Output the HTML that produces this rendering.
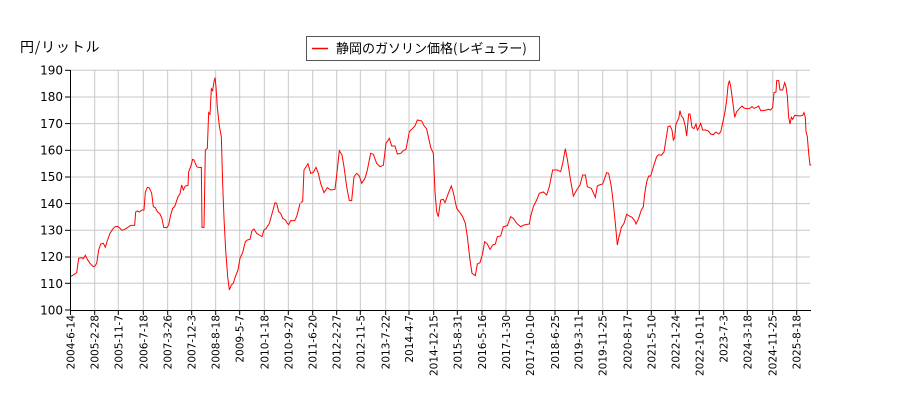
<!DOCTYPE html>
<html><head><meta charset="utf-8"><style>
body{margin:0;background:#fff;}
svg{font-family:"DejaVu Sans","Noto Sans CJK JP",sans-serif;}
</style></head><body>
<svg width="900" height="400" viewBox="0 0 900 400" xmlns="http://www.w3.org/2000/svg">
<rect width="900" height="400" fill="#fff"/>
<text x="20" y="52" font-size="14" fill="#000" font-family="'Noto Sans CJK JP',sans-serif" letter-spacing="0.8">円/リットル</text>
<g stroke="#c8c8c8" stroke-width="1">
<line x1="70" x2="810" y1="70.3" y2="70.3"/><line x1="70" x2="810" y1="97" y2="97"/><line x1="70" x2="810" y1="123.6" y2="123.6"/><line x1="70" x2="810" y1="150.3" y2="150.3"/><line x1="70" x2="810" y1="177" y2="177"/><line x1="70" x2="810" y1="203.6" y2="203.6"/><line x1="70" x2="810" y1="230.3" y2="230.3"/><line x1="70" x2="810" y1="257" y2="257"/><line x1="70" x2="810" y1="283.3" y2="283.3"/>
<line y1="70" y2="310" x1="94.7" x2="94.7"/><line y1="70" y2="310" x1="118.3" x2="118.3"/><line y1="70" y2="310" x1="143.3" x2="143.3"/><line y1="70" y2="310" x1="167.7" x2="167.7"/><line y1="70" y2="310" x1="191.7" x2="191.7"/><line y1="70" y2="310" x1="215.7" x2="215.7"/><line y1="70" y2="310" x1="239.7" x2="239.7"/><line y1="70" y2="310" x1="264.3" x2="264.3"/><line y1="70" y2="310" x1="288.3" x2="288.3"/><line y1="70" y2="310" x1="312.7" x2="312.7"/><line y1="70" y2="310" x1="336.7" x2="336.7"/><line y1="70" y2="310" x1="360.3" x2="360.3"/><line y1="70" y2="310" x1="385.7" x2="385.7"/><line y1="70" y2="310" x1="409" x2="409"/><line y1="70" y2="310" x1="433.7" x2="433.7"/><line y1="70" y2="310" x1="457.3" x2="457.3"/><line y1="70" y2="310" x1="482" x2="482"/><line y1="70" y2="310" x1="506" x2="506"/><line y1="70" y2="310" x1="530" x2="530"/><line y1="70" y2="310" x1="555" x2="555"/><line y1="70" y2="310" x1="578.3" x2="578.3"/><line y1="70" y2="310" x1="602.7" x2="602.7"/><line y1="70" y2="310" x1="627.3" x2="627.3"/><line y1="70" y2="310" x1="651.3" x2="651.3"/><line y1="70" y2="310" x1="675.3" x2="675.3"/><line y1="70" y2="310" x1="699.3" x2="699.3"/><line y1="70" y2="310" x1="723.7" x2="723.7"/><line y1="70" y2="310" x1="747.3" x2="747.3"/><line y1="70" y2="310" x1="772.7" x2="772.7"/><line y1="70" y2="310" x1="796.7" x2="796.7"/>
</g>
<g fill="none" stroke="#ff0000" stroke-width="1" stroke-linejoin="miter">
<g transform="translate(0,30) scale(0.33333)">
<polyline vector-effect="non-scaling-stroke" points="211,740 220,735 230,728 236,685 245,683 250,686 256,676 262,688 270,700 280,710 285,708 290,700 296,660 302,642 310,640 316,652 322,632 330,610 340,595 346,590 352,589 358,593 366,601 374,598 382,593 392,586 404,586 407,546 412,543 418,546 426,540 432,540 436,487 442,472 448,474 455,490 460,530 466,533 472,545 480,552 486,566 491,592 500,593 506,585 512,555 518,535 524,530 528,518 534,500 540,492 545,465 550,480 556,468 564,466 566,425 572,410 578,388 582,390 590,410 598,413 604,412 606,592 612,592 616,360 622,355 626,248 630,253 634,176 638,182 642,155 645,143 648,170 652,232 658,288 664,320 668,460 672,565 677,660 683,740 688,780 694,765 700,760 706,740 714,720 720,685 728,668 736,635 742,630 750,628 756,602 762,597 770,610 778,615 786,620 792,600 798,596 808,580 818,544 825,518 830,520 836,545 842,550 848,565 856,570 862,580 866,584 872,572 884,572 890,560 896,537 900,520"/>
</g>
<g transform="translate(280,60) scale(0.33333)">
<polyline vector-effect="non-scaling-stroke" points="62,428 68,424 72,330 84,311 92,340 100,337 108,322 115,340 122,370 132,398 142,383 152,390 165,388 172,328 178,272 186,285 192,320 200,380 208,422 215,422 222,350 230,340 238,348 245,370 255,355 262,330 272,280 280,283 290,310 300,320 310,316 318,250 328,235 335,258 345,258 352,282 362,280 370,272 378,268 388,215 398,205 405,198 412,180 425,183 432,197 440,207 452,262 460,280 465,395 470,455 475,470 482,420 490,418 495,428 505,400 514,378 520,398 530,445 540,458 548,470 556,490 562,530 570,600 576,640 586,647 592,612 600,608 608,580 614,545 622,552 630,568 638,555 646,552 652,530 662,528 670,500 682,497 692,470 700,475 710,490 722,500 732,495 748,492 752,470 760,440 770,420 778,400 790,396 800,405 808,380 818,330 832,330 842,335 848,310 856,266 862,298 870,350 880,408 890,390 900,375 908,345 916,345 922,380 934,385 946,412 952,378 958,375 968,372 980,338 986,340 994,380 1000,430 1006,490 1012,555 1018,525"/>
</g>
<g transform="translate(600,30) scale(0.33333)">
<polyline vector-effect="non-scaling-stroke" points="58,618 64,592 72,580 80,553 88,558 96,562 104,572 108,582 116,565 124,540 130,530 134,492 140,456 146,438 152,438 158,418 164,398 170,380 176,374 184,376 192,366 198,328 204,290 210,288 216,300 220,330 224,322 228,282 236,265 240,242 244,258 250,265 256,290 260,318 266,252 270,252 276,292 282,296 288,282 292,300 296,294 302,280 308,300 316,300 324,302 332,312 340,314 348,306 356,312 362,306 370,270 376,240 380,210 384,168 388,152 392,168 398,214 404,262 410,245 418,236 426,228 432,234 440,236 448,236 456,230 462,235 470,232 476,228 482,242 490,242 498,240 506,238 512,240 518,232 522,188 528,186 530,152 536,152 540,180 548,180 554,158 558,170 562,198 566,262 570,282 574,262 578,268 584,256 600,258 608,256 612,248 616,262 618,305 622,320 626,370 630,405 634,405"/>
</g>
</g>
<g stroke="#000" stroke-width="1">
<line x1="70.5" x2="70.5" y1="70" y2="310"/>
<line x1="70" x2="811" y1="310.5" y2="310.5"/>
<line x1="65" x2="70" y1="70.3" y2="70.3"/><line x1="65" x2="70" y1="97" y2="97"/><line x1="65" x2="70" y1="123.6" y2="123.6"/><line x1="65" x2="70" y1="150.3" y2="150.3"/><line x1="65" x2="70" y1="177" y2="177"/><line x1="65" x2="70" y1="203.6" y2="203.6"/><line x1="65" x2="70" y1="230.3" y2="230.3"/><line x1="65" x2="70" y1="257" y2="257"/><line x1="65" x2="70" y1="283.3" y2="283.3"/><line x1="65" x2="70" y1="310" y2="310"/>
<line y1="310" y2="315" x1="70.5" x2="70.5"/><line y1="310" y2="315" x1="94.7" x2="94.7"/><line y1="310" y2="315" x1="118.3" x2="118.3"/><line y1="310" y2="315" x1="143.3" x2="143.3"/><line y1="310" y2="315" x1="167.7" x2="167.7"/><line y1="310" y2="315" x1="191.7" x2="191.7"/><line y1="310" y2="315" x1="215.7" x2="215.7"/><line y1="310" y2="315" x1="239.7" x2="239.7"/><line y1="310" y2="315" x1="264.3" x2="264.3"/><line y1="310" y2="315" x1="288.3" x2="288.3"/><line y1="310" y2="315" x1="312.7" x2="312.7"/><line y1="310" y2="315" x1="336.7" x2="336.7"/><line y1="310" y2="315" x1="360.3" x2="360.3"/><line y1="310" y2="315" x1="385.7" x2="385.7"/><line y1="310" y2="315" x1="409" x2="409"/><line y1="310" y2="315" x1="433.7" x2="433.7"/><line y1="310" y2="315" x1="457.3" x2="457.3"/><line y1="310" y2="315" x1="482" x2="482"/><line y1="310" y2="315" x1="506" x2="506"/><line y1="310" y2="315" x1="530" x2="530"/><line y1="310" y2="315" x1="555" x2="555"/><line y1="310" y2="315" x1="578.3" x2="578.3"/><line y1="310" y2="315" x1="602.7" x2="602.7"/><line y1="310" y2="315" x1="627.3" x2="627.3"/><line y1="310" y2="315" x1="651.3" x2="651.3"/><line y1="310" y2="315" x1="675.3" x2="675.3"/><line y1="310" y2="315" x1="699.3" x2="699.3"/><line y1="310" y2="315" x1="723.7" x2="723.7"/><line y1="310" y2="315" x1="747.3" x2="747.3"/><line y1="310" y2="315" x1="772.7" x2="772.7"/><line y1="310" y2="315" x1="796.7" x2="796.7"/>
</g>
<g font-size="12" fill="#000" text-anchor="end">
<text x="63" y="74.5">190</text><text x="63" y="101">180</text><text x="63" y="128">170</text><text x="63" y="154.5">160</text><text x="63" y="181">150</text><text x="63" y="208">140</text><text x="63" y="234.5">130</text><text x="63" y="261">120</text><text x="63" y="288">110</text><text x="63" y="314.5">100</text>
</g>
<g font-size="10.5" fill="#000" text-anchor="end">
<text transform="translate(74.5,315) rotate(-90)">2004-6-14</text>
<text transform="translate(98.7,315) rotate(-90)">2005-2-28</text>
<text transform="translate(122.3,315) rotate(-90)">2005-11-7</text>
<text transform="translate(147.3,315) rotate(-90)">2006-7-18</text>
<text transform="translate(171.7,315) rotate(-90)">2007-3-26</text>
<text transform="translate(195.7,315) rotate(-90)">2007-12-3</text>
<text transform="translate(219.7,315) rotate(-90)">2008-8-18</text>
<text transform="translate(243.7,315) rotate(-90)">2009-5-7</text>
<text transform="translate(268.3,315) rotate(-90)">2010-1-18</text>
<text transform="translate(292.3,315) rotate(-90)">2010-9-27</text>
<text transform="translate(316.7,315) rotate(-90)">2011-6-20</text>
<text transform="translate(340.7,315) rotate(-90)">2012-2-27</text>
<text transform="translate(364.3,315) rotate(-90)">2012-11-5</text>
<text transform="translate(389.7,315) rotate(-90)">2013-7-22</text>
<text transform="translate(413,315) rotate(-90)">2014-4-7</text>
<text transform="translate(437.7,315) rotate(-90)">2014-12-15</text>
<text transform="translate(461.3,315) rotate(-90)">2015-8-31</text>
<text transform="translate(486,315) rotate(-90)">2016-5-16</text>
<text transform="translate(510,315) rotate(-90)">2017-1-30</text>
<text transform="translate(534,315) rotate(-90)">2017-10-10</text>
<text transform="translate(559,315) rotate(-90)">2018-6-25</text>
<text transform="translate(582.3,315) rotate(-90)">2019-3-11</text>
<text transform="translate(606.7,315) rotate(-90)">2019-11-25</text>
<text transform="translate(631.3,315) rotate(-90)">2020-8-17</text>
<text transform="translate(655.3,315) rotate(-90)">2021-5-10</text>
<text transform="translate(679.3,315) rotate(-90)">2022-1-24</text>
<text transform="translate(703.3,315) rotate(-90)">2022-10-11</text>
<text transform="translate(727.7,315) rotate(-90)">2023-7-3</text>
<text transform="translate(751.3,315) rotate(-90)">2024-3-18</text>
<text transform="translate(776.7,315) rotate(-90)">2024-11-25</text>
<text transform="translate(800.7,315) rotate(-90)">2025-8-18</text>
</g>
<rect x="306.5" y="36.5" width="233" height="24" fill="#fff" stroke="#555" stroke-width="1"/>
<line x1="312" x2="328" y1="48.5" y2="48.5" stroke="#ff0000" stroke-width="1.5"/>
<text x="336" y="53" font-size="13" fill="#000" font-family="'Noto Sans CJK JP',sans-serif">静岡のガソリン価格(レギュラー)</text>
</svg>
</body></html>
